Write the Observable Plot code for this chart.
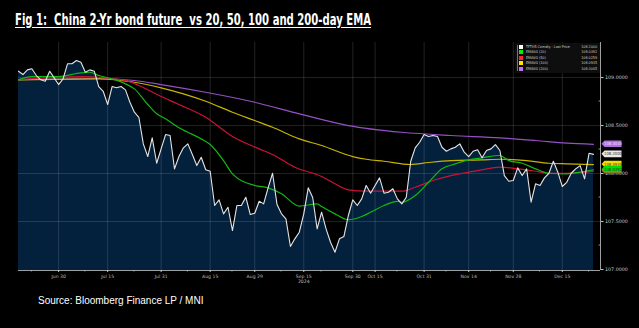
<!DOCTYPE html>
<html><head><meta charset="utf-8">
<script src="https://cdn.jsdelivr.net/npm/d3@7"></script>
<script src="https://cdn.jsdelivr.net/npm/@observablehq/plot@0.6"></script>
<style>
html,body{margin:0;padding:0;background:#000;}
#wrap{position:relative;width:639px;height:328px;overflow:hidden;background:#000;}
#title{position:absolute;left:15px;top:11px;color:#fff;font-weight:bold;font-size:15.5px;font-family:"Liberation Sans Narrow","DejaVu Sans Condensed","Roboto",sans-serif;text-decoration:underline;text-underline-offset:2px;white-space:pre;transform-origin:0 0;}
#source{position:absolute;left:38px;top:295px;color:#fff;font-size:10px;font-family:"Liberation Sans",Arial,sans-serif;white-space:pre;}
#chart{position:absolute;left:0;top:36px;}
#legend{position:absolute;left:515px;top:43px;width:85px;height:30px;background:#0e0e0e;font-family:"DejaVu Sans Condensed","DejaVu Sans",sans-serif;font-size:3.7px;color:#cfcfcf;}
#legend .row{position:absolute;left:4px;height:5px;width:80px;}
#legend .sw{position:absolute;left:0;top:0;width:4px;height:4px;}
#legend .nm{position:absolute;left:7px;top:0;white-space:pre;}
#legend .vl{position:absolute;right:2px;top:0;white-space:pre;}
#legend .tree{position:absolute;left:2px;top:2px;width:0.6px;height:26px;background:#777;}
</style></head><body>
<div id="wrap">
<div id="title">Fig 1:  China 2-Yr bond future  vs 20, 50, 100 and 200-day EMA</div>
<div id="chart"></div>
<div id="legend"><div class="tree"></div></div>
<div id="source">Source: Bloomberg Finance LP / MNI</div>
</div>
<script>
// ---- data (trading-day index, price) ----
const price = [109.066,109.031,109.080,109.091,109.021,108.976,108.961,109.066,108.997,108.927,
108.986,109.143,109.143,109.177,109.159,109.055,109.080,109.066,108.906,108.857,
108.719,108.906,108.893,108.906,108.872,108.743,108.639,108.586,108.309,108.177,
108.372,108.107,108.257,108.406,108.396,108.049,108.177,108.268,108.309,108.198,
108.083,108.170,108.039,108.024,107.667,107.726,107.580,107.649,107.406,107.667,
107.667,107.753,107.573,107.586,107.711,107.684,107.851,108.003,107.677,107.580,
107.528,107.240,107.320,107.389,107.580,107.851,107.750,107.424,107.597,107.424,
107.284,107.180,107.320,107.344,107.563,107.726,107.667,107.736,107.875,107.795,
107.875,107.955,107.795,107.805,107.841,107.736,107.684,107.753,108.128,108.268,
108.326,108.406,108.385,108.396,108.385,108.274,108.232,108.257,108.274,108.309,
108.222,108.177,108.232,108.247,108.164,108.240,108.257,108.302,108.240,107.979,
107.920,107.927,108.059,107.979,108.049,107.701,107.893,107.875,107.955,108.003,
108.128,108.014,107.865,107.909,108.003,108.049,108.083,107.945,108.211,108.200];

const ema200 = [[0,108.979],[9,108.984],[18,108.990],[26,108.969],[32,108.927],[42,108.847],[53,108.743],[63,108.622],[74,108.500],[86,108.430],[97,108.396],[108,108.372],[116,108.344],[123,108.316],[129,108.3045]];
const ema100 = [[0,108.976],[18,108.986],[26,108.951],[32,108.893],[37,108.830],[42,108.753],[48,108.639],[53,108.552],[57,108.482],[63,108.361],[68,108.292],[75,108.177],[78,108.149],[82,108.128],[88,108.094],[92,108.115],[97,108.135],[104,108.143],[108,108.149],[114,108.135],[119,108.107],[123,108.101],[129,108.0935]];
const ema50 = [[0,108.979],[14,109.010],[24,108.969],[27,108.917],[32,108.802],[36,108.719],[42,108.586],[48,108.385],[54,108.257],[57,108.198],[62,108.066],[68,107.969],[71,107.893],[74,107.830],[78,107.816],[82,107.816],[86,107.816],[89,107.857],[93,107.927],[97,107.979],[101,108.014],[104,108.039],[108,108.066],[112,108.049],[116,108.024],[119,108.003],[123,108.003],[129,108.0259]];
const ema20 = [[0,108.976],[3,109.010],[9,109.010],[14,109.049],[16,109.055],[18,109.021],[21,108.986],[24,108.934],[26,108.882],[29,108.719],[31,108.622],[33,108.570],[36,108.476],[38,108.430],[41,108.361],[43,108.302],[46,108.135],[48,107.997],[53,107.875],[56,107.851],[59,107.789],[63,107.661],[67,107.684],[68,107.656],[71,107.580],[74,107.518],[77,107.552],[79,107.597],[82,107.667],[85,107.711],[86,107.701],[89,107.771],[92,107.909],[95,108.049],[98,108.101],[101,108.143],[104,108.164],[108,108.188],[110,108.135],[113,108.107],[116,108.049],[119,108.003],[123,107.997],[126,108.014],[129,108.0392]];

const tickDays = [9,20,32,43,53,64,75,80,91,101,111,122];
const tickLabels = ["Jun 30","Jul 15","Jul 31","Aug 15","Aug 29","Sep 15\n2024","Sep 30","Oct 15","Oct 31","Nov 14","Nov 28","Dec 15"];
const minorTickDays = [3,15,26,38,48,59,68,85,96,106,117,128];
const yTicks = [107, 107.5, 108, 108.5, 109];
const yMinorTicks = [107.25, 107.75, 108.25, 108.75, 109.25];

const legendNames = ["TFTH5 Comdty - Last Price","EMAVG (20)","EMAVG (50)","EMAVG (100)","EMAVG (200)"];
const legendValues = ["108.2000","108.0392","108.0259","108.0935","108.3045"];
const legendColors = ["#ffffff","#00f000","#ff2233","#ffe600","#c070f0"];
const lineColors = {price:"#e4e4e4", e20:"#12b812", e50:"#cc1236", e100:"#c8b400", e200:"#9550c4"};
const tagColors = {price:"#e8e8e8", e20:"#00e000", e50:"#ff2040", e100:"#f0e000", e200:"#b070e0"};

// ---- build ----
const priceData = price.map((v,i)=>({day:i,value:v}));
const obj = a => a.map(([day,value])=>({day,value}));
const yBase = 106.99, yTop = 109.365;
const xEnd = 130.57;
const axisCol = "#c8c8c8";

const plot = Plot.plot({
  width:639, height:250,
  marginLeft:18, marginRight:39, marginTop:6, marginBottom:16,
  style:{background:"transparent", color:axisCol, fontFamily:"DejaVu Sans, sans-serif"},
  x:{type:"linear", domain:[0,xEnd], axis:null, label:null},
  y:{type:"linear", domain:[yBase,yTop], axis:null, label:null},
  marks:[
    Plot.areaY(priceData,{x:"day", y1:()=>yBase, y2:"value", fill:"#03203d"}),
    Plot.ruleX(tickDays,{stroke:"#fff", strokeOpacity:0.17, strokeWidth:0.8}),
    Plot.ruleY(yTicks.slice(1),{stroke:"#fff", strokeOpacity:0.17, strokeWidth:0.8}),
    Plot.line(obj(ema200),{x:"day", y:"value", stroke:lineColors.e200, strokeWidth:1.2, curve:"monotone-x"}),
    Plot.line(obj(ema100),{x:"day", y:"value", stroke:lineColors.e100, strokeWidth:1.2, curve:"monotone-x"}),
    Plot.line(obj(ema50),{x:"day", y:"value", stroke:lineColors.e50, strokeWidth:1.2, curve:"monotone-x"}),
    Plot.line(obj(ema20),{x:"day", y:"value", stroke:lineColors.e20, strokeWidth:1.2, curve:"monotone-x"}),
    Plot.line(priceData,{x:"day", y:"value", stroke:lineColors.price, strokeWidth:1.1}),
    // axes
    Plot.ruleY([yBase],{stroke:axisCol, strokeWidth:0.8}),
    Plot.ruleX([xEnd],{stroke:axisCol, strokeWidth:0.8}),
    Plot.axisX(tickDays,{anchor:"bottom", label:null, tickSize:2, tickPadding:1.5, fontSize:4.6, lineHeight:1.1,
      tickFormat:(d,i)=>tickLabels[i], stroke:axisCol, fill:"#bbbbbb"}),
    Plot.axisY(yTicks,{anchor:"right", label:null, tickSize:2.5, tickPadding:2, fontSize:4.8,
      tickFormat:d=>d.toFixed(4), stroke:axisCol, fill:"#cfcfcf"}),
  ]
});
document.getElementById("chart").appendChild(plot);

// minor ticks and value tags, placed through the plot's scales
const ys = plot.scale("y"), xs = plot.scale("x");
const svg = d3.select(plot);
const ax = xs.apply(xEnd), ay = ys.apply(yBase);
const mg = svg.append("g").attr("stroke",axisCol).attr("stroke-width",0.7);
mg.selectAll("line.my").data(yMinorTicks).join("line").attr("class","my")
  .attr("x1",ax-1.5).attr("x2",ax).attr("y1",d=>ys.apply(d)).attr("y2",d=>ys.apply(d));
mg.selectAll("line.mx").data(minorTickDays).join("line").attr("class","mx")
  .attr("x1",d=>xs.apply(d)).attr("x2",d=>xs.apply(d)).attr("y1",ay).attr("y2",ay+1.5);

// red (50) tag lies fully under the green (20) tag, as in the reference: shape only
const tags = [
  {v:ema50[ema50.length-1][1], c:tagColors.e50, t:null},
  {v:ema100[ema100.length-1][1], c:tagColors.e100, t:"#333"},
  {v:ema20[ema20.length-1][1], c:tagColors.e20, t:"#333"},
  {v:price[price.length-1], c:tagColors.price, t:"#333"},
  {v:ema200[ema200.length-1][1], c:tagColors.e200, t:"#f0e0ff"},
];
const tg = svg.append("g");
tags.forEach(d=>{
  const y = ys.apply(d.v), x0 = ax+1.5;
  tg.append("path").attr("d",`M${x0},${y} L${x0+3},${y-3.3} L${x0+20},${y-3.3} L${x0+20},${y+3.3} L${x0+3},${y+3.3} Z`)
    .attr("fill",d.c);
  if (d.t) tg.append("text").attr("x",x0+11.5).attr("y",y+1.5).attr("text-anchor","middle")
    .attr("font-size",4.2).attr("font-family","DejaVu Sans Condensed, sans-serif").attr("fill",d.t)
    .text(d.v.toFixed(4));
});

// legend
const lg = document.getElementById("legend");
legendNames.forEach((n,i)=>{
  const r = document.createElement("div");
  r.className="row"; r.style.top=(2+i*5.4)+"px";
  r.innerHTML=`<div class="sw" style="background:${legendColors[i]}"></div><div class="nm">${n}</div><div class="vl">${legendValues[i]}</div>`;
  lg.appendChild(r);
});

// fit title to the reference width
const title = document.getElementById("title");
const tw = title.getBoundingClientRect().width;
title.style.transform = `scaleX(${356/tw})`;
</script>
</body></html>
